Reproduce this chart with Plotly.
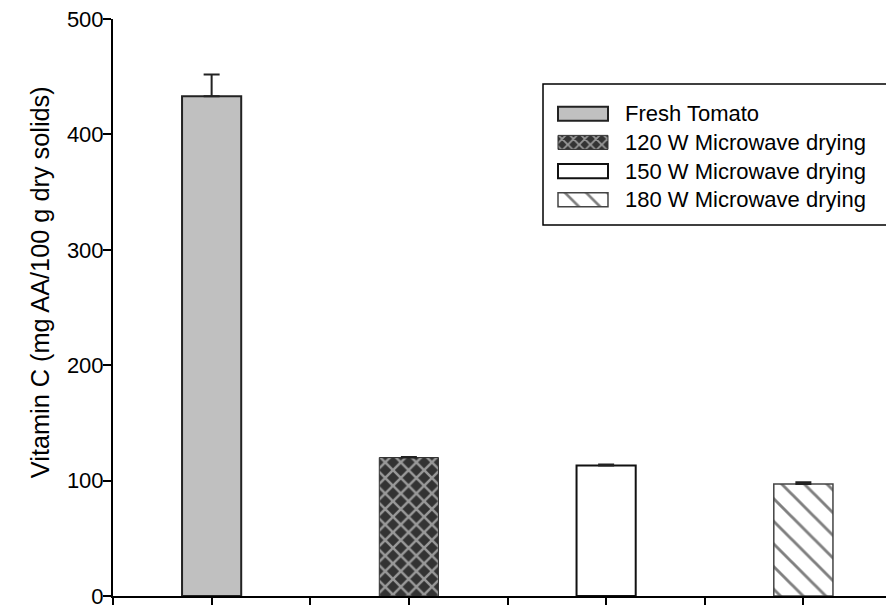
import plotly.graph_objects as go

categories = ["Fresh Tomato", "120 W Microwave drying", "150 W Microwave drying", "180 W Microwave drying"]
positions = [1, 3, 5, 7]
values = [433, 120, 113, 97]
errors = [19, 0.5, 1, 1.5]
ytick_vals = [0, 100, 200, 300, 400, 500]
y_title = "Vitamin C (mg AA/100 g dry solids)"

styles = [
    dict(color="#c0c0c0", line="#222222", lw=2, shape="", fg="#c0c0c0", size=8, sol=0.1),
    dict(color="#333333", line="#333333", lw=1, shape="x", fg="white", size=11, sol=0.4),
    dict(color="white", line="#111111", lw=2, shape="", fg="white", size=8, sol=0.1),
    dict(color="white", line="#444444", lw=1.5, shape="\\", fg="#000000", size=16, sol=0.18),
]


def marker_for(st, size=None):
    m = dict(color=st["color"], line=dict(color=st["line"], width=st["lw"]))
    if st["shape"]:
        m["pattern"] = dict(shape=st["shape"], fgcolor=st["fg"], bgcolor=st["color"],
                            size=size or st["size"], solidity=st["sol"], fillmode="overlay")
    return m


fig = go.Figure()
for name, x, v, e, st in zip(categories, positions, values, errors, styles):
    fig.add_trace(go.Bar(
        x=[x], y=[v], name=name, width=0.6, marker=marker_for(st), showlegend=False,
        error_y=dict(type="data", array=[e], arrayminus=[0], symmetric=False,
                     color="#222222", thickness=2, width=8),
    ))

# Legend swatches drawn as horizontal bars on a small auxiliary axis pair
for name, st in zip(categories, styles):
    sw = dict(st)
    if sw["shape"] == "x":
        sw["size"] = 8
    if sw["shape"] == "\\":
        sw["size"] = 15
    fig.add_trace(go.Bar(
        y=[name], x=[1], orientation="h", width=0.49, xaxis="x2", yaxis="y2",
        marker=marker_for(sw), showlegend=False, hoverinfo="skip",
    ))

annotations = [
    dict(x=1.3, y=name, xref="x2", yref="y2", text=name, showarrow=False,
         xanchor="left", yanchor="middle", font=dict(size=22, color="black"))
    for name in categories
]
annotations.append(dict(
    x=-0.0925, y=0.544, xref="paper", yref="paper", text=y_title, textangle=-90,
    showarrow=False, xanchor="center", yanchor="middle", font=dict(size=25.3, color="black")))

fig.update_layout(
    width=894, height=606,
    margin=dict(l=105, r=0, t=11, b=18),
    paper_bgcolor="white", plot_bgcolor="white",
    barmode="overlay",
    font=dict(family="Liberation Sans, Arial, sans-serif", size=22, color="black"),
    showlegend=False,
    xaxis=dict(range=[0, 8], tickvals=list(range(0, 8)), showticklabels=False,
               ticks="outside", ticklen=7, tickwidth=2, tickcolor="black",
               showline=True, linecolor="black", linewidth=2, showgrid=False, zeroline=False),
    yaxis=dict(range=[0, 500], tickvals=ytick_vals, ticks="outside", ticklen=8,
               tickwidth=2, tickcolor="black", showline=True, linecolor="black",
               linewidth=2, showgrid=False, zeroline=False,
               ticklabeloverflow="allow", ticklabelstandoff=-5),
    xaxis2=dict(domain=[0.5621, 0.9125], range=[-0.03, 5.5], anchor="y2", visible=False,
                fixedrange=True),
    yaxis2=dict(domain=[0.6618, 0.8607], range=[3.5, -0.5], anchor="x2", visible=False,
                type="category", categoryorder="array", categoryarray=categories, fixedrange=True),
    shapes=[dict(type="rect", xref="paper", yref="paper", x0=0.545, x1=0.9823,
                 y0=0.643, y1=0.8873, line=dict(color="black", width=1.5),
                 fillcolor="rgba(0,0,0,0)", layer="below")],
    annotations=annotations,
)

fig.write_html("out.html")
